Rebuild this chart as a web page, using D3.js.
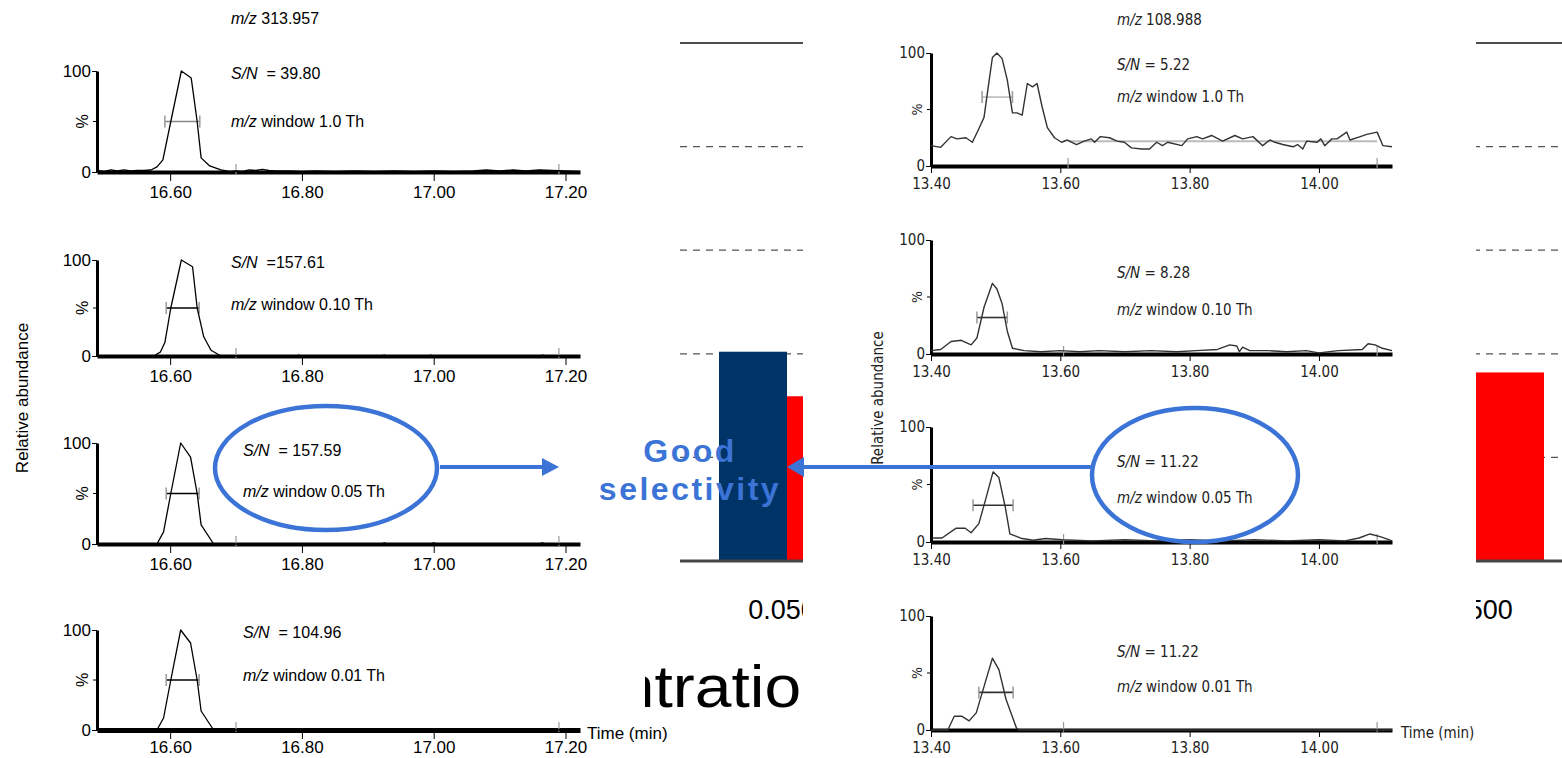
<!DOCTYPE html>
<html>
<head>
<meta charset="utf-8">
<script src="https://cdn.jsdelivr.net/npm/d3@7"></script>
<style>
  body { margin: 0; background: #fff; }
  svg { display: block; }
  text { font-family: "Liberation Sans", Arial, sans-serif; }
  .narrow text, text.narrow { font-family: "Liberation Sans Narrow", "DejaVu Sans Condensed", "Liberation Sans", sans-serif; }
</style>
</head>
<body>
<svg id="chart" width="1562" height="758"></svg>
<script>
// ---- background bar chart (mostly hidden behind the chromatograms) ----
const barCategories = ["0.050", "0.500"];
const barSeries = ["navy", "red"];
const navyValues = [2.02, 2.10];
const redValues = [1.59, 1.82];
const barTicks = [1, 2, 3, 4, 5];

// ---- chromatogram ticks / labels ----
const leftTimeTicks = [16.60, 16.80, 17.00, 17.20];
const rightTimeTicks = [13.40, 13.60, 13.80, 14.00];
const pctTicks = [0, 100];
const windows = ["1.0", "0.10", "0.05", "0.01"];
const leftSN = ["\u00a0 = 39.80", "\u00a0 =157.61", "\u00a0 = 157.59", "\u00a0 = 104.96"];
const rightSN = [" = 5.22", " = 8.28", " = 11.22", " = 11.22"];

// left column, m/z 313.957 : [time, %]
const leftTrace1 = [[16.489,1.5],[16.50,0.5],[16.51,2],[16.52,1],[16.53,2],[16.54,1],[16.55,1.5],[16.56,1.5],[16.571,2],
  [16.58,5],[16.589,12],[16.601,50],[16.617,100],[16.632,93],[16.641,50],[16.647,14],[16.66,6],[16.677,2],[16.69,0.5],
  [16.70,1],[16.71,0.5],[16.72,2],[16.73,1.5],[16.74,2.5],[16.75,1.5],[16.76,1],[16.78,1],[16.80,0.5],[16.82,1],[16.85,0.5],
  [16.88,1],[16.91,0.5],[16.94,1],[16.97,0.5],[17.00,1],[17.03,0.5],[17.06,1],[17.08,2],[17.10,1],[17.12,2],[17.14,1],
  [17.16,2],[17.18,1.5],[17.20,1],[17.222,0.5]];
const leftTrace2 = [[16.489,0],[16.575,0],[16.585,4],[16.592,14],[16.601,50],[16.617,100],[16.634,93],[16.641,50],
  [16.651,20],[16.662,6],[16.677,0],[16.79,0],[16.795,1],[16.80,0],[16.92,0],[16.925,1],[16.93,0],[16.99,0],[16.995,1],
  [17.0,0],[17.16,0],[17.165,1],[17.17,0],[17.222,0]];
const leftTrace3 = [[16.489,0],[16.58,0],[16.59,12],[16.601,50],[16.616,100],[16.631,86],[16.641,50],[16.647,19],
  [16.666,0],[16.92,0],[16.925,1],[16.93,0],[16.995,0],[17.0,1],[17.005,0],[17.16,0],[17.165,1],[17.17,0],[17.222,0]];
const leftTrace4 = [[16.489,0],[16.58,0],[16.59,12],[16.601,50],[16.616,100],[16.631,87],[16.641,50],[16.647,19],
  [16.666,0],[17.222,0]];
const leftFwhm = [[16.592, 16.645], [16.594, 16.644], [16.594, 16.644], [16.594, 16.644]];

// right column, m/z 108.988
const rightTrace1 = [[13.400,18],[13.415,16.5],[13.431,26],[13.440,24],[13.454,25],[13.464,21],[13.474,33],[13.482,43],
  [13.490,76],[13.495,96],[13.502,100],[13.510,95],[13.518,76],[13.526,47],[13.533,47],[13.541,45],[13.549,73],[13.557,70],
  [13.564,73],[13.572,52],[13.580,34],[13.591,25],[13.602,21],[13.611,23],[13.625,19],[13.637,22],[13.648,24],[13.653,21],
  [13.662,26],[13.676,25],[13.688,22],[13.699,21],[13.710,16],[13.726,15],[13.738,15],[13.749,21],[13.758,18],[13.766,21],
  [13.788,18],[13.797,24],[13.811,26],[13.820,24],[13.834,27],[13.851,22],[13.870,27],[13.882,24],[13.898,26],[13.913,18],
  [13.924,23],[13.932,21],[13.944,19],[13.960,17],[13.967,19],[13.975,15],[13.981,22],[13.997,21],[14.003,24],[14.009,18],
  [14.020,24],[14.028,24],[14.043,30],[14.048,23],[14.064,26],[14.074,28],[14.090,30],[14.099,18],[14.113,17]];
const rightTrace2 = [[13.400,3],[13.415,4],[13.431,11],[13.447,12],[13.462,8],[13.471,14],[13.482,41],[13.495,62],
  [13.502,57],[13.510,44],[13.518,20],[13.526,5],[13.544,3],[13.57,2],[13.60,3],[13.63,2],[13.66,3],[13.70,2],[13.74,3],
  [13.78,2],[13.81,3],[13.843,4],[13.862,8],[13.873,7],[13.877,2],[13.882,6],[13.893,3],[13.92,3],[13.95,2],[13.98,3],
  [14.00,1],[14.03,3],[14.067,4],[14.076,9],[14.087,8],[14.098,5],[14.113,3]];
const rightTrace3 = [[13.402,3.5],[13.417,3.5],[13.439,12],[13.453,12],[13.462,8],[13.474,16],[13.484,36],[13.496,61],
  [13.505,56],[13.515,30],[13.522,7],[13.541,3],[13.558,1.5],[13.577,3],[13.603,2],[13.65,1],[13.70,2],[13.75,1],[13.80,2],
  [13.85,1],[13.90,2],[13.95,1],[14.00,2],[14.04,1],[14.062,3.5],[14.079,7],[14.096,4.5],[14.113,1]];
const rightTrace4 = [[13.400,0],[13.426,0],[13.436,12],[13.448,12],[13.459,8],[13.470,15],[13.484,42],[13.495,63],
  [13.505,53],[13.516,27],[13.532,2],[13.536,0],[14.113,0]];
const rightFwhm = [[13.479, 13.526, 61], [13.471, 13.518, 32], [13.465, 13.527, 32], [13.474, 13.527, 33]];

const svg = d3.select("#chart");

// ================= background bar chart =================
const bg = svg.append("g");
const xCat = d3.scalePoint().domain(barCategories).range([787, 1476]);
const xSub = d3.scaleBand().domain(barSeries).range([-68, 68]);
const yBar = d3.scaleLinear().domain([0, 5]).range([561, 43]);
const barColor = d3.scaleOrdinal().domain(barSeries).range(["#003366", "#ff0000"]);

bg.selectAll("line.grid").data(barTicks).join("line")
  .attr("class", "grid")
  .attr("x1", 680).attr("x2", 1562)
  .attr("y1", d => yBar(d)).attr("y2", d => yBar(d))
  .attr("stroke", d => d === 5 ? "#111" : "#555")
  .attr("stroke-width", d => d === 5 ? 1.3 : 1.2)
  .attr("stroke-dasharray", d => d === 5 ? null : "7,6");

const barRows = barCategories.map((c, i) => ({ cat: c, vals: [
  { k: "navy", v: navyValues[i] }, { k: "red", v: redValues[i] }] }));
bg.selectAll("g.grp").data(barRows).join("g")
  .attr("transform", d => `translate(${xCat(d.cat)},0)`)
  .selectAll("rect").data(d => d.vals).join("rect")
  .attr("x", d => xSub(d.k)).attr("width", xSub.bandwidth())
  .attr("y", d => yBar(d.v)).attr("height", d => yBar(0) - yBar(d.v))
  .attr("fill", d => barColor(d.k));

bg.append("line").attr("x1", 680).attr("x2", 1562)
  .attr("y1", yBar(0)).attr("y2", yBar(0))
  .attr("stroke", "#444").attr("stroke-width", 3);

bg.selectAll("text.cat").data(barCategories).join("text")
  .attr("x", (d, i) => xCat(d) + (i === 0 ? -5 : 3)).attr("y", 619)
  .attr("text-anchor", "middle").attr("font-size", 27)
  .text(d => d);

bg.append("text").attr("transform", "translate(427,707) scale(1.1,1)")
  .attr("font-size", 60).text("Concentration");

// white backgrounds of the two pasted chromatogram figures
svg.append("rect").attr("x", 0).attr("y", 0).attr("width", 645).attr("height", 758).attr("fill", "#fff");
svg.append("rect").attr("x", 803).attr("y", 0).attr("width", 673).attr("height", 758).attr("fill", "#fff");

// ================= chromatogram panels =================
function drawPanel(parent, o) {
  const g = parent.append("g");
  const x = d3.scaleLinear().domain(o.domain).range(o.xRange);
  const y = d3.scaleLinear().domain([0, 100]).range([o.y0, o.y100]);

  const xa = g.append("g").attr("transform", `translate(0,${o.y0})`)
    .call(d3.axisBottom(x).tickValues(o.ticks).tickFormat(d3.format(".2f"))
      .tickSize(o.tickLen).tickSizeOuter(0).tickPadding(o.pad));
  xa.select(".domain").attr("stroke", "#000").attr("stroke-width", o.xw);
  xa.selectAll(".tick line").attr("stroke", "#000");
  xa.selectAll("text").attr("font-size", o.fs).attr("fill", o.txt).attr("font-family", null);

  const ya = g.append("g").attr("transform", `translate(${o.xRange[0]},0)`)
    .call(d3.axisLeft(y).tickValues(pctTicks).tickSize(5).tickSizeOuter(0).tickPadding(1));
  ya.select(".domain").attr("stroke", "#000").attr("stroke-width", o.yw);
  ya.selectAll("text").attr("font-size", o.fs).attr("fill", o.txt).attr("font-family", null);
  ya.append("line").attr("x1", -4).attr("x2", 0).attr("y1", y(50)).attr("y2", y(50)).attr("stroke", "#000");

  g.append("text").attr("transform", `translate(${o.xRange[0] - 9},${y(50)}) rotate(-90)`)
    .attr("text-anchor", "middle").attr("font-size", o.fs - 1).attr("fill", o.txt).text("%");

  // integration markers / noise line
  g.selectAll("line.mk").data(o.marks).join("line").attr("class", "mk")
    .attr("x1", d => x(d)).attr("x2", d => x(d)).attr("y1", o.y0 - 8).attr("y2", o.y0 + 2)
    .attr("stroke", "#999").attr("stroke-width", 1.2);
  if (o.noise) {
    g.append("line").attr("x1", x(o.noise[0])).attr("x2", x(o.noise[1]))
      .attr("y1", y(o.noise[2])).attr("y2", y(o.noise[2]))
      .attr("stroke", "#bbb").attr("stroke-width", 2);
  }

  // half-height width marker
  const fy = y(o.fwhm[2]);
  g.append("line").attr("x1", x(o.fwhm[0])).attr("x2", x(o.fwhm[1])).attr("y1", fy).attr("y2", fy)
    .attr("stroke", o.fwhmColor).attr("stroke-width", 1.6);
  g.selectAll("line.cap").data([o.fwhm[0], o.fwhm[1]]).join("line").attr("class", "cap")
    .attr("x1", d => x(d)).attr("x2", d => x(d)).attr("y1", fy - 6).attr("y2", fy + 6)
    .attr("stroke", "#999").attr("stroke-width", 1.5);

  g.append("path").datum(o.trace)
    .attr("d", d3.line().x(d => x(d[0])).y(d => y(d[1])))
    .attr("fill", "none").attr("stroke", o.line).attr("stroke-width", o.lw)
    .attr("stroke-linejoin", "round");
}

function label(g, px, py, italicPart, rest, fs, fill) {
  const t = g.append("text").attr("x", px).attr("y", py).attr("font-size", fs).attr("fill", fill)
    .style("white-space", "pre");
  t.append("tspan").attr("font-style", "italic").text(italicPart);
  t.append("tspan").text(rest);
}

// left column
const left = svg.append("g");
const leftTraces = [leftTrace1, leftTrace2, leftTrace3, leftTrace4];
const leftY = [[172, 71], [356, 260], [544, 443], [730, 630]];
const leftText = [[231, 79, 127], [231, 268, 310], [243, 456, 497], [243, 638, 681]];
leftTraces.forEach((tr, i) => {
  drawPanel(left, {
    domain: [16.489, 17.222], xRange: [97, 580], y0: leftY[i][0], y100: leftY[i][1],
    ticks: leftTimeTicks, tickLen: 9, pad: i === 3 ? 2 : 5, fs: 17, txt: "#000", xw: i === 3 ? 5 : 4, yw: 3,
    trace: tr, line: "#000", lw: 1.3,
    fwhm: [leftFwhm[i][0], leftFwhm[i][1], 50], fwhmColor: i === 0 ? "#888" : "#000",
    marks: [16.70, 17.19]
  });
  label(left, leftText[i][0], leftText[i][1], "S/N", leftSN[i], 16, "#000");
  label(left, leftText[i][0], leftText[i][2], "m/z", " window " + windows[i] + " Th", 16, "#000");
});
label(left, 231, 24, "m/z", " 313.957", 16, "#000");
left.append("text").attr("transform", "translate(28,398) rotate(-90)").attr("text-anchor", "middle")
  .attr("font-size", 17).text("Relative abundance");
left.append("text").attr("x", 587).attr("y", 739).attr("font-size", 17).text("Time (min)");

// right column
const right = svg.append("g").attr("class", "narrow");
const rightTraces = [rightTrace1, rightTrace2, rightTrace3, rightTrace4];
const rightY = [[166, 53], [354, 240], [542, 427], [730, 616]];
const rightText = [[70, 102], [278, 315], [467, 503], [657, 692]];
rightTraces.forEach((tr, i) => {
  drawPanel(right, {
    domain: [13.40, 14.113], xRange: [931, 1392], y0: rightY[i][0], y100: rightY[i][1],
    ticks: rightTimeTicks, tickLen: 7, pad: 5, fs: 15, txt: "#222", xw: 4, yw: 3,
    trace: tr, line: "#333", lw: 1.4,
    fwhm: rightFwhm[i], fwhmColor: i === 0 ? "#bbb" : "#333",
    marks: i === 0 ? [13.612, 14.09] : [13.605, 14.09],
    noise: i === 0 ? [13.612, 14.09, 22] : null
  });
  label(right, 1117, rightText[i][0], "S/N", rightSN[i], 15, "#222");
  label(right, 1117, rightText[i][1], "m/z", " window " + windows[i] + " Th", 15, "#222");
});
label(right, 1117, 25, "m/z", " 108.988", 15, "#222");
right.append("text").attr("transform", "translate(878,398) rotate(-90)").attr("text-anchor", "middle")
  .attr("dy", "0.35em").attr("font-size", 15).attr("fill", "#222").text("Relative abundance");
right.append("text").attr("x", 1401).attr("y", 738).attr("font-size", 15).attr("fill", "#222").text("Time (min)");

// ================= annotations =================
const blue = "#3b74d6";
const ann = svg.append("g");
ann.append("ellipse").attr("cx", 326).attr("cy", 468).attr("rx", 111).attr("ry", 62)
  .attr("fill", "none").attr("stroke", blue).attr("stroke-width", 4.5);
ann.append("ellipse").attr("cx", 1195).attr("cy", 475).attr("rx", 103).attr("ry", 67)
  .attr("fill", "none").attr("stroke", blue).attr("stroke-width", 4.5);
ann.append("line").attr("x1", 440).attr("x2", 544).attr("y1", 467).attr("y2", 467)
  .attr("stroke", blue).attr("stroke-width", 4);
ann.append("path").attr("d", "M542,458 L559,467 L542,476 Z").attr("fill", blue);
ann.append("line").attr("x1", 1091).attr("x2", 802).attr("y1", 467).attr("y2", 467)
  .attr("stroke", blue).attr("stroke-width", 4);
ann.append("path").attr("d", "M804,457 L787,467 L804,477 Z").attr("fill", blue);
ann.append("text").attr("x", 690).attr("y", 462).attr("text-anchor", "middle")
  .attr("font-size", 32).attr("font-weight", "bold").attr("letter-spacing", 2.5).attr("fill", blue).text("Good");
ann.append("text").attr("x", 690).attr("y", 500).attr("text-anchor", "middle")
  .attr("font-size", 32).attr("font-weight", "bold").attr("letter-spacing", 2.5).attr("fill", blue).text("selectivity");
</script>
</body>
</html>
